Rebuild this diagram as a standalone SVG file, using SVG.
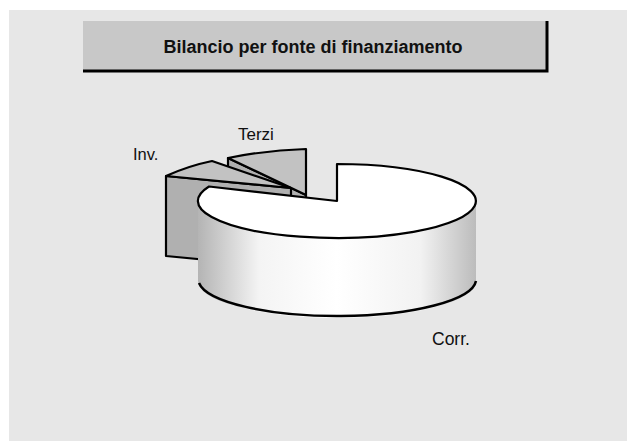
<svg xmlns="http://www.w3.org/2000/svg" width="627" height="441" viewBox="0 0 627 441">
  <defs>
    <linearGradient id="wallGrad" x1="198" y1="0" x2="476" y2="0" gradientUnits="userSpaceOnUse">
      <stop offset="0" stop-color="#b4b4b4"/>
      <stop offset="0.22" stop-color="#f4f4f4"/>
      <stop offset="0.5" stop-color="#ffffff"/>
      <stop offset="0.8" stop-color="#f2f2f2"/>
      <stop offset="1" stop-color="#bcbcbc"/>
    </linearGradient>
  </defs>
  <style>
    .lbl { font-family: "Liberation Sans", Arial, sans-serif; fill: #111; }
    .title { font-family: "Liberation Sans", Arial, sans-serif; font-weight: bold; font-size: 18px; fill: #111; }
    .edge { stroke: #000; stroke-width: 2.2; stroke-linejoin: round; }
    .top { fill: #c2c2c2; }
    .side { fill: #b0b0b0; }
  </style>
  <rect x="9" y="10" width="618" height="431" fill="#e7e7e7"/>

  <g id="title">
    <rect x="83" y="21" width="464" height="50" fill="#c8c8c8"/>
    <path d="M83,71 L547,71 L547,21" fill="none" stroke="#000" stroke-width="3"/>
    <text class="title" x="313" y="53" text-anchor="middle">Bilancio per fonte di finanziamento</text>
  </g>

  <g id="slice-terzi">
    <polygon class="side edge" points="228,158 306,195 306,275 228,238"/>
    <path class="top edge" d="M228,158 Q268,150 306,149 L306,195 Z"/>
    <text class="lbl" x="238" y="140" font-size="17">Terzi</text>
  </g>

  <g id="slice-inv">
    <polygon class="side edge" points="166,176 291,188 291,268 166,256"/>
    <path class="top edge" d="M166,176 Q188,166 212,161 L291,188 Z"/>
    <text class="lbl" x="133" y="160" font-size="16.5">Inv.</text>
  </g>

  <g id="slice-corr">
    <path d="M198,201 A139,37 0 0,0 476,201 L476,281 A139,37 0 0,1 198,281 Z" fill="url(#wallGrad)"/>
    <path d="M199,283 A139,37 0 0,0 476,281" fill="none" stroke="#000" stroke-width="2.5"/>
    <path d="M337,201 L337,164 A139,37 0 1,1 209,186.5 Z" fill="#ffffff" class="edge"/>
    <text class="lbl" x="432" y="345" font-size="17.5">Corr.</text>
  </g>
</svg>
